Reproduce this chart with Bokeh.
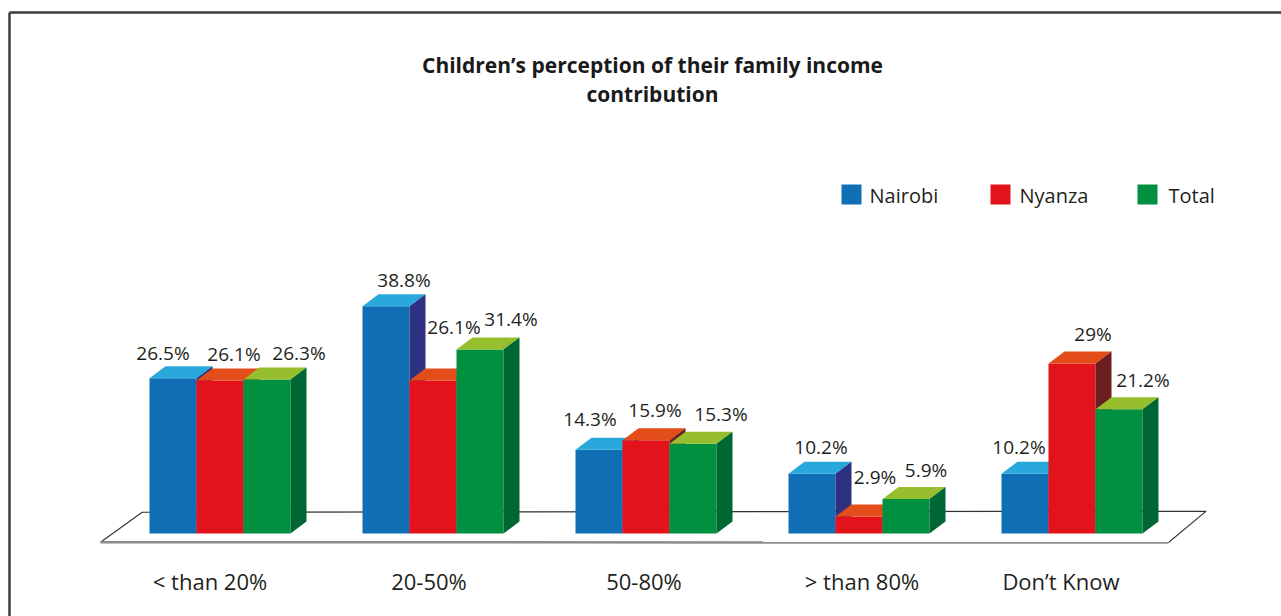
from bokeh.plotting import figure
from bokeh.models import Range1d, ColumnDataSource
from bokeh.core.properties import value
from bokeh.embed import file_html
from bokeh.resources import INLINE

# ---- data ----
categories = ["< than 20%", "20-50%", "50-80%", "> than 80%", "Don\u2019t Know"]
series_names = ["Nairobi", "Nyanza", "Total"]
nairobi = [26.5, 38.8, 14.3, 10.2, 10.2]
nyanza = [26.1, 26.1, 15.9, 2.9, 29]
total = [26.3, 31.4, 15.3, 5.9, 21.2]
title_lines = ["Children\u2019s perception of their family income", "contribution"]

# ---- styling / layout (screen pixels) ----
front_cols = ["#0f6eb4", "#e2131b", "#009140"]
top_cols = ["#29a8dc", "#e34d1a", "#97bf2d"]
side_cols = ["#2e3182", "#6d1f20", "#006633"]
TXT = "#231f20"
FONT = "Open Sans"
TSHIFT = 9  # text baseline correction (pixels)

X0, XS = 219.5, 213.0   # pixel of group 0 center, pixels per group
Y0, YS = 533.0, 5.86    # pixel of 0 %, pixels per %
W, H = 1281, 616

def gx(px):
    return (px - X0) / XS

def gy(py):
    return (Y0 - py) / YS

BW = 47 / XS
DX = 16 / XS
DY = 12 / YS

# label offsets in pixels (dx from bar centre, rise above top face)
label_dx = [[-10, 14, 32], [18, 21, 31], [-9, 9, 28], [9, 16, 20], [-6, 21, 24]]
label_rise = [[4, 6, 5], [5, 33, 9], [10, 9, 9], [6, 19, 8], [6, 9, 8]]
cat_dx = [-10, -4, -2, 3, -11]

p = figure(width=W, height=H, x_range=Range1d(gx(0), gx(W)), y_range=Range1d(gy(H), gy(0)),
           output_backend="svg", toolbar_location=None, min_border=0,
           x_axis_location=None, y_axis_location=None)
p.grid.visible = False
p.outline_line_color = None
p.background_fill_color = "white"
p.border_fill_color = "white"

# border (left and top)
p.line([gx(9), gx(9)], [gy(12), gy(H + 5)], line_color="#3c3c3c", line_width=2.5)
p.line([gx(9), gx(W + 5)], [gy(12), gy(12)], line_color="#3c3c3c", line_width=2.5)

# floor
fl = [(100, 541.7), (1168, 542), (1205.7, 510.7), (141.7, 511.7)]
p.patch([gx(a) for a, b in fl], [gy(b) for a, b in fl], fill_color="white", line_color=None)
p.line([gx(100), gx(141.7), gx(1205.7), gx(1168)], [gy(541.7), gy(511.7), gy(510.7), gy(542)],
       line_color="#333333", line_width=1.1)
p.line([gx(100), gx(1168)], [gy(541.7), gy(542)], line_color="#8c8c8c", line_width=2.5)

# bars (painter's order)
series = [nairobi, nyanza, total]
xs, ys, cols = [], [], []
lx, ly, ltxt, ldx, ldy = [], [], [], [], []
for i in range(len(categories)):
    for j, s in enumerate(series):
        v = s[i]
        x0 = i + (j - 1.5) * BW
        x1 = x0 + BW
        xs.append([x0, x1, x1, x0]); ys.append([0, 0, v, v]); cols.append(front_cols[j])
        xs.append([x0, x1, x1 + DX, x0 + DX]); ys.append([v, v, v + DY, v + DY]); cols.append(top_cols[j])
        xs.append([x1, x1 + DX, x1 + DX, x1]); ys.append([0, DY, v + DY, v]); cols.append(side_cols[j])
        lx.append((x0 + x1) / 2); ly.append(v + DY); ltxt.append(f"{v:g}%")
        ldx.append(label_dx[i][j]); ldy.append(-label_rise[i][j] - TSHIFT)

p.patches(xs=xs, ys=ys, fill_color=cols, line_color=None)

src = ColumnDataSource(dict(x=lx, y=ly, t=ltxt, dx=ldx, dy=ldy))
p.text(x="x", y="y", text="t", x_offset="dx", y_offset="dy", source=src,
       text_align="center", text_baseline="alphabetic", text_font=value(FONT),
       text_font_size="19px", text_color=TXT)

# category labels
csrc = ColumnDataSource(dict(x=list(range(len(categories))), y=[0] * len(categories),
                             t=categories, dx=cat_dx))
p.text(x="x", y="y", text="t", x_offset="dx", y_offset=56 - TSHIFT, source=csrc,
       text_align="center", text_baseline="alphabetic", text_font=value(FONT),
       text_font_size="22px", text_color=TXT)

# legend (manual)
leg_sq = [851, 1000, 1147]
leg_tx = [869, 1019, 1168]
p.scatter([gx(a) for a in leg_sq], [gy(194)] * 3, marker="square", size=20,
          fill_color=front_cols, line_color=None)
p.text([gx(a) for a in leg_tx], [gy(204 - TSHIFT)] * 3, text=series_names,
       text_align="left", text_baseline="alphabetic", text_font=value(FONT),
       text_font_size="20px", text_color=TXT)

# title
p.text([gx(652)] * 2, [gy(73 - TSHIFT), gy(102 - TSHIFT)], text=title_lines, text_align="center",
       text_baseline="alphabetic", text_font=value(FONT), text_font_style="bold",
       text_font_size="21px", text_color="#1a1a1a")

open("out.html", "w").write(file_html(p, INLINE))
